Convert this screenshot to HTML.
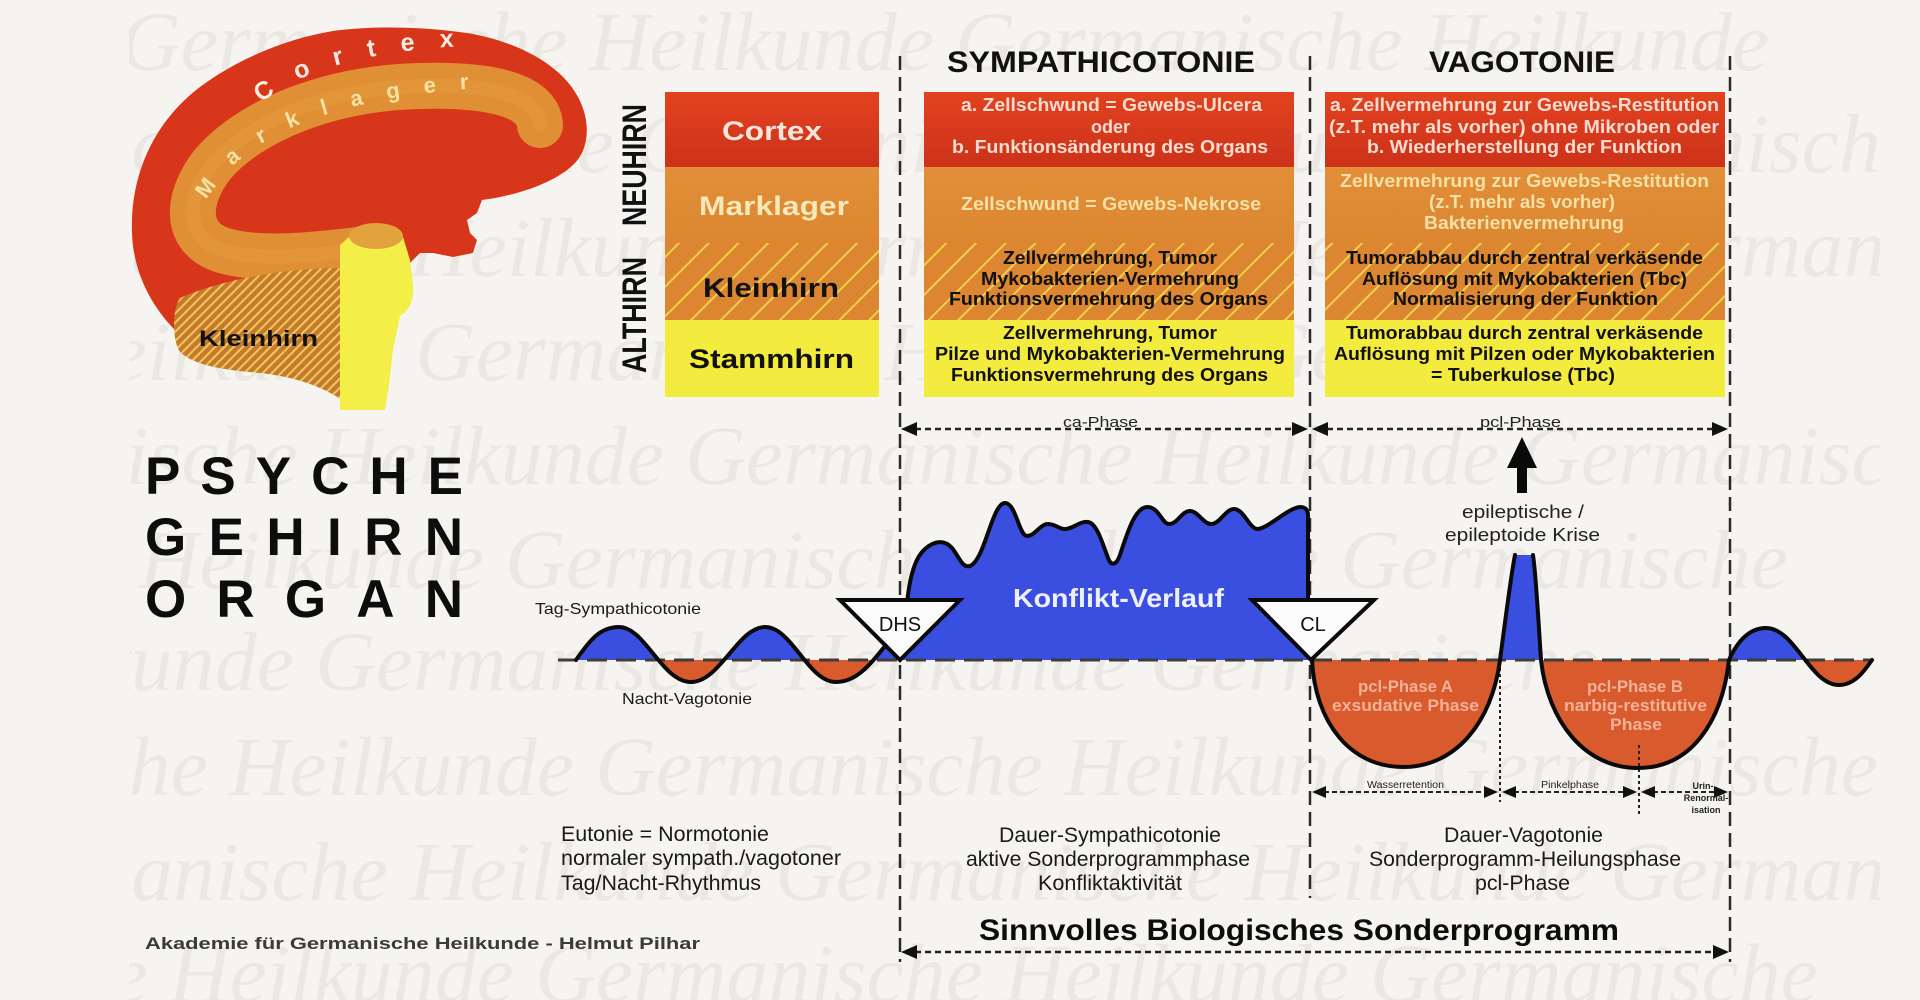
<!DOCTYPE html>
<html><head><meta charset="utf-8"><style>html,body{margin:0;padding:0;background:#f6f4f0;}svg{display:block}</style></head>
<body>
<svg width="1920" height="1000" viewBox="0 0 1920 1000" xmlns="http://www.w3.org/2000/svg" font-family="'Liberation Sans', Arial, sans-serif">
<defs>
<pattern id="hb" width="6.5" height="6.5" patternUnits="userSpaceOnUse" patternTransform="rotate(45)"><rect width="6.5" height="6.5" fill="#c67a2f"/><rect width="2" height="6.5" fill="#efc955"/></pattern>
<pattern id="ht" width="21" height="21" patternUnits="userSpaceOnUse" patternTransform="rotate(45)"><rect width="21" height="21" fill="#dc8632"/><rect width="2" height="21" fill="#f0cf4a"/></pattern>
<linearGradient id="gr" x1="0" y1="0" x2="0" y2="1"><stop offset="0" stop-color="#e2421f"/><stop offset="1" stop-color="#cc321a"/></linearGradient>
<linearGradient id="go" x1="0" y1="0" x2="0" y2="1"><stop offset="0" stop-color="#e28f38"/><stop offset="1" stop-color="#dc8631"/></linearGradient>
<clipPath id="above"><rect x="0" y="0" width="1920" height="660"/></clipPath>
<clipPath id="below"><rect x="0" y="660" width="1920" height="340"/></clipPath>
<clipPath id="wm"><rect x="129" y="0" width="1751" height="1000"/></clipPath>
<path id="pc" d="M 250 115 C 285 75 360 50 470 46"/>
<path id="pm" d="M 200 218 C 225 140 330 92 520 86"/>
</defs>

<rect width="1920" height="1000" fill="#f6f4f0"/>

<!-- watermark -->
<g clip-path="url(#wm)" font-family="'Liberation Serif', serif" font-style="italic" font-size="84" fill="#ebe8e3">
<text x="120" y="70">Germanische Heilkunde   Germanische Heilkunde</text>
<text x="-200" y="172">Germanische Heilkunde   Germanische Heilkunde   Germanische</text>
<text x="-60" y="276">Germanische Heilkunde   Germanische Heilkunde   Germanische</text>
<text x="-420" y="380">Germanische Heilkunde   Germanische Heilkunde   Germanische</text>
<text x="-150" y="484">Germanische Heilkunde   Germanische Heilkunde   Germanische</text>
<text x="-330" y="588">Germanische Heilkunde   Germanische Heilkunde   Germanische</text>
<text x="-520" y="690">Germanische Heilkunde   Germanische Heilkunde   Germanische</text>
<text x="-240" y="795">Germanische Heilkunde   Germanische Heilkunde   Germanische</text>
<text x="-60" y="900">Germanische Heilkunde   Germanische Heilkunde   Germanische</text>
<text x="-300" y="1002">Germanische Heilkunde   Germanische Heilkunde   Germanische</text>
</g>

<!-- brain -->
<path d="M 175 330 C 150 305 133 270 132 233 C 130 180 150 125 200 87 C 240 57 290 38 333 31 C 370 26 420 26 467 33 C 510 40 555 60 575 92 C 592 118 590 150 573 165 C 555 182 520 195 482 200 L 477 213 L 467 220 L 470 233 L 477 240 L 473 253 L 453 257 L 433 253 L 420 253 L 410 263 L 400 288 L 340 285 C 280 280 220 290 180 320 Z" fill="#d8361b"/>
<path d="M 540 125 C 538 95 490 84 420 86 C 330 88 250 120 212 165 C 185 200 185 238 222 250 C 260 262 320 255 375 248" fill="none" stroke="#e08f35" stroke-width="46" stroke-linecap="round"/>
<path d="M 540 125 C 538 95 490 84 420 86 C 330 88 250 120 212 165 C 185 200 185 238 222 250 C 260 262 320 255 375 248" fill="none" stroke="#e69c40" stroke-width="14" stroke-linecap="round" opacity="0.5"/>
<path d="M 340 268 C 290 268 225 278 180 298 C 172 310 172 340 180 352 C 195 366 225 370 260 373 C 290 376 320 385 342 400 Z" fill="url(#hb)"/>
<path d="M 349 237 L 340 245 L 340 410 L 385 410 L 389 385 L 393 350 L 400 316 C 410 310 414 300 413 285 L 410 260 L 403 237 Z" fill="#f4ef48"/>
<ellipse cx="376" cy="236" rx="27" ry="13" fill="#e3a33c"/>
<text font-size="25" font-weight="bold" fill="#f8ebe2" letter-spacing="25"><textPath href="#pc" startOffset="16">Cortex</textPath></text>
<text font-size="22" font-weight="bold" fill="#f5e2a4" letter-spacing="24"><textPath href="#pm" startOffset="19">Marklager</textPath></text>
<text x="199" y="346" font-size="22" font-weight="bold" fill="#111" textLength="119" lengthAdjust="spacingAndGlyphs">Kleinhirn</text>

<!-- vertical labels -->
<text transform="translate(646,226) rotate(-90)" font-size="34" font-weight="bold" fill="#111" textLength="122" lengthAdjust="spacingAndGlyphs">NEUHIRN</text>
<text transform="translate(646,373) rotate(-90)" font-size="34" font-weight="bold" fill="#111" textLength="116" lengthAdjust="spacingAndGlyphs">ALTHIRN</text>

<!-- left table -->
<rect x="665" y="92" width="214" height="75" fill="url(#gr)"/>
<rect x="665" y="167" width="214" height="76" fill="url(#go)"/>
<rect x="665" y="243" width="214" height="77" fill="url(#ht)"/>
<rect x="665" y="320" width="214" height="77" fill="#f3ec3e"/>
<g font-weight="bold" font-size="27">
<text x="722" y="140" fill="#f6e6dc" textLength="100" lengthAdjust="spacingAndGlyphs">Cortex</text>
<text x="699" y="215" fill="#f6e8b8" textLength="150" lengthAdjust="spacingAndGlyphs">Marklager</text>
<text x="703" y="297" fill="#111" textLength="136" lengthAdjust="spacingAndGlyphs">Kleinhirn</text>
<text x="689" y="368" fill="#111" textLength="165" lengthAdjust="spacingAndGlyphs">Stammhirn</text>
</g>

<!-- SYMP column -->
<rect x="924" y="92" width="370" height="75" fill="url(#gr)"/>
<rect x="924" y="167" width="370" height="76" fill="url(#go)"/>
<rect x="924" y="243" width="370" height="77" fill="url(#ht)"/>
<rect x="924" y="320" width="370" height="77" fill="#f3ec3e"/>
<!-- VAGO column -->
<rect x="1325" y="92" width="400" height="75" fill="url(#gr)"/>
<rect x="1325" y="167" width="400" height="76" fill="url(#go)"/>
<rect x="1325" y="243" width="400" height="77" fill="url(#ht)"/>
<rect x="1325" y="320" width="400" height="77" fill="#f3ec3e"/>

<g font-weight="bold" font-size="18">
<text x="961" y="111" fill="#f7dccf" textLength="301" lengthAdjust="spacingAndGlyphs">a. Zellschwund = Gewebs-Ulcera</text>
<text x="1091" y="133" fill="#f7dccf" textLength="39" lengthAdjust="spacingAndGlyphs">oder</text>
<text x="952" y="153" fill="#f7dccf" textLength="316" lengthAdjust="spacingAndGlyphs">b. Funktionsänderung des Organs</text>
<text x="961" y="210" fill="#f3e0a6" textLength="300" lengthAdjust="spacingAndGlyphs">Zellschwund = Gewebs-Nekrose</text>
<text x="1003" y="264" fill="#111" textLength="214" lengthAdjust="spacingAndGlyphs">Zellvermehrung, Tumor</text>
<text x="981" y="285" fill="#111" textLength="258" lengthAdjust="spacingAndGlyphs">Mykobakterien-Vermehrung</text>
<text x="949" y="305" fill="#111" textLength="319" lengthAdjust="spacingAndGlyphs">Funktionsvermehrung des Organs</text>
<text x="1003" y="339" fill="#111" textLength="214" lengthAdjust="spacingAndGlyphs">Zellvermehrung, Tumor</text>
<text x="935" y="360" fill="#111" textLength="350" lengthAdjust="spacingAndGlyphs">Pilze und Mykobakterien-Vermehrung</text>
<text x="951" y="381" fill="#111" textLength="317" lengthAdjust="spacingAndGlyphs">Funktionsvermehrung des Organs</text>

<text x="1330" y="111" fill="#f7dccf" textLength="389" lengthAdjust="spacingAndGlyphs">a. Zellvermehrung zur Gewebs-Restitution</text>
<text x="1329" y="133" fill="#f7dccf" textLength="390" lengthAdjust="spacingAndGlyphs">(z.T. mehr als vorher) ohne Mikroben oder</text>
<text x="1367" y="153" fill="#f7dccf" textLength="315" lengthAdjust="spacingAndGlyphs">b. Wiederherstellung der Funktion</text>
<text x="1340" y="187" fill="#f3e0a6" textLength="369" lengthAdjust="spacingAndGlyphs">Zellvermehrung zur Gewebs-Restitution</text>
<text x="1429" y="208" fill="#f3e0a6" textLength="186" lengthAdjust="spacingAndGlyphs">(z.T. mehr als vorher)</text>
<text x="1424" y="229" fill="#f3e0a6" textLength="200" lengthAdjust="spacingAndGlyphs">Bakterienvermehrung</text>
<text x="1346" y="264" fill="#111" textLength="357" lengthAdjust="spacingAndGlyphs">Tumorabbau durch zentral verkäsende</text>
<text x="1362" y="285" fill="#111" textLength="325" lengthAdjust="spacingAndGlyphs">Auflösung mit Mykobakterien (Tbc)</text>
<text x="1393" y="305" fill="#111" textLength="265" lengthAdjust="spacingAndGlyphs">Normalisierung der Funktion</text>
<text x="1346" y="339" fill="#111" textLength="357" lengthAdjust="spacingAndGlyphs">Tumorabbau durch zentral verkäsende</text>
<text x="1334" y="360" fill="#111" textLength="381" lengthAdjust="spacingAndGlyphs">Auflösung mit Pilzen oder Mykobakterien</text>
<text x="1431" y="381" fill="#111" textLength="184" lengthAdjust="spacingAndGlyphs">= Tuberkulose (Tbc)</text>
</g>

<!-- headers -->
<text x="947" y="72" font-size="30" font-weight="bold" fill="#111" textLength="308" lengthAdjust="spacingAndGlyphs">SYMPATHICOTONIE</text>
<text x="1429" y="72" font-size="30" font-weight="bold" fill="#111" textLength="186" lengthAdjust="spacingAndGlyphs">VAGOTONIE</text>

<!-- PSYCHE GEHIRN ORGAN -->
<g font-size="53" font-weight="bold" fill="#0d0d0d">
<text x="145" y="494" textLength="318" lengthAdjust="spacing">PSYCHE</text>
<text x="145" y="555" textLength="318" lengthAdjust="spacing">GEHIRN</text>
<text x="145" y="617" textLength="318" lengthAdjust="spacing">ORGAN</text>
</g>

<!-- vertical dashed lines -->
<g stroke="#2a2a2a" stroke-width="2.5" stroke-dasharray="14 7" fill="none">
<line x1="900" y1="56" x2="900" y2="962"/>
<line x1="1310" y1="56" x2="1310" y2="898"/>
<line x1="1730" y1="56" x2="1730" y2="962"/>
</g>

<!-- phase arrows -->
<g stroke="#222" stroke-width="2.5" stroke-dasharray="6 4" fill="none">
<line x1="915" y1="429" x2="1294" y2="429"/>
<line x1="1327" y1="429" x2="1714" y2="429"/>
<line x1="915" y1="952" x2="1715" y2="952"/>
</g>
<g fill="#111">
<polygon points="901,429 917,422 917,436"/>
<polygon points="1308,429 1292,422 1292,436"/>
<polygon points="1312,429 1328,422 1328,436"/>
<polygon points="1728,429 1712,422 1712,436"/>
<polygon points="901,952 917,945 917,959"/>
<polygon points="1729,952 1713,945 1713,959"/>
</g>
<g font-size="15" fill="#222">
<text x="1063" y="427" textLength="75" lengthAdjust="spacingAndGlyphs">ca-Phase</text>
<text x="1480" y="427" textLength="81" lengthAdjust="spacingAndGlyphs">pcl-Phase</text>
</g>

<!-- pre-DHS wave fills -->
<path d="M 576 660 C 590 640 600 627 619 627 C 645 627 662 682 691 682 C 720 682 738 627 765 627 C 792 627 808 682 836 682 C 862 682 876 655 900 628 L 900 660 Z" fill="#3a4fe0" clip-path="url(#above)"/>
<path d="M 576 660 C 590 640 600 627 619 627 C 645 627 662 682 691 682 C 720 682 738 627 765 627 C 792 627 808 682 836 682 C 862 682 876 655 900 628 L 900 660 Z" fill="#d85a2d" clip-path="url(#below)"/>

<!-- Konflikt area -->
<path d="M 900 660 L 905 640 C 906 590 912 560 925 549 C 935 540 945 540 952 548 C 960 558 962 568 970 566 C 985 560 992 503 1005 503 C 1016 503 1019 536 1027 536 C 1035 536 1040 524 1048 524 C 1056 524 1060 530 1066 529 C 1074 528 1080 521 1088 522 C 1097 523 1103 545 1108 558 C 1111 566 1116 566 1120 555 C 1128 530 1136 506 1148 507 C 1160 508 1162 525 1170 524 C 1178 523 1182 511 1190 511 C 1198 511 1204 525 1212 524 C 1220 523 1226 509 1234 509 C 1244 509 1250 530 1258 529 C 1270 527 1288 508 1300 507 C 1306 507 1308 510 1308 516 L 1308 660 Z" fill="#3a4fe0"/>

<!-- post-CL fills -->
<path d="M 1312 660 C 1315 722 1350 767 1403 767 C 1456 767 1492 722 1500 660 C 1506 615 1511 575 1515 555 L 1533 555 C 1536 575 1538 615 1541 660 C 1548 722 1585 768 1638 768 C 1691 768 1722 722 1729 660 C 1738 640 1750 628 1766 628 C 1795 628 1810 685 1839 685 C 1855 685 1865 670 1872 660 Z" fill="#3a4fe0" clip-path="url(#above)"/>
<path d="M 1312 660 C 1315 722 1350 767 1403 767 C 1456 767 1492 722 1500 660 C 1506 615 1511 575 1515 555 L 1533 555 C 1536 575 1538 615 1541 660 C 1548 722 1585 768 1638 768 C 1691 768 1722 722 1729 660 C 1738 640 1750 628 1766 628 C 1795 628 1810 685 1839 685 C 1855 685 1865 670 1872 660 Z" fill="#d85a2d" clip-path="url(#below)"/>

<!-- baseline -->
<line x1="558" y1="660" x2="1873" y2="660" stroke="#3d3d3d" stroke-width="3" stroke-dasharray="20 9"/>

<!-- dotted verticals -->
<g stroke="#222" stroke-width="2" stroke-dasharray="3 3" fill="none">
<line x1="1500" y1="662" x2="1500" y2="802"/>
<line x1="1639" y1="745" x2="1639" y2="815"/>
</g>

<!-- black curves -->
<g fill="none" stroke="#0a0a0a" stroke-width="4" stroke-linejoin="round" stroke-linecap="round">
<path d="M 576 660 C 590 640 600 627 619 627 C 645 627 662 682 691 682 C 720 682 738 627 765 627 C 792 627 808 682 836 682 C 862 682 876 655 900 628"/>
<path d="M 905 640 C 906 590 912 560 925 549 C 935 540 945 540 952 548 C 960 558 962 568 970 566 C 985 560 992 503 1005 503 C 1016 503 1019 536 1027 536 C 1035 536 1040 524 1048 524 C 1056 524 1060 530 1066 529 C 1074 528 1080 521 1088 522 C 1097 523 1103 545 1108 558 C 1111 566 1116 566 1120 555 C 1128 530 1136 506 1148 507 C 1160 508 1162 525 1170 524 C 1178 523 1182 511 1190 511 C 1198 511 1204 525 1212 524 C 1220 523 1226 509 1234 509 C 1244 509 1250 530 1258 529 C 1270 527 1288 508 1300 507 C 1306 507 1308 510 1308 516 L 1308 610"/>
<path d="M 1312 660 C 1315 722 1350 767 1403 767 C 1456 767 1492 722 1500 660 C 1506 615 1511 575 1515 555"/>
<path d="M 1533 555 C 1536 575 1538 615 1541 660 C 1548 722 1585 768 1638 768 C 1691 768 1722 722 1729 660 C 1738 640 1750 628 1766 628 C 1795 628 1810 685 1839 685 C 1855 685 1865 670 1872 660"/>
</g>

<!-- triangles -->
<path d="M 840 600 L 960 600 L 900 660 Z" fill="#fbfbfb" stroke="#0a0a0a" stroke-width="4" stroke-linejoin="miter"/>
<path d="M 1252 600 L 1374 600 L 1311 660 Z" fill="#fbfbfb" stroke="#0a0a0a" stroke-width="4" stroke-linejoin="miter"/>
<text x="900" y="631" font-size="20" fill="#111" text-anchor="middle">DHS</text>
<text x="1313" y="631" font-size="20" fill="#111" text-anchor="middle">CL</text>

<text x="1013" y="607" font-size="26" font-weight="bold" fill="#eef0ff" textLength="211" lengthAdjust="spacingAndGlyphs">Konflikt-Verlauf</text>

<!-- wave labels -->
<text x="535" y="614" font-size="16" fill="#1a1a1a" textLength="166" lengthAdjust="spacingAndGlyphs">Tag-Sympathicotonie</text>
<text x="622" y="704" font-size="16" fill="#1a1a1a" textLength="130" lengthAdjust="spacingAndGlyphs">Nacht-Vagotonie</text>

<!-- epileptic arrow -->
<polygon points="1522,437 1507,468 1537,468" fill="#0a0a0a"/>
<rect x="1517" y="466" width="10" height="27" fill="#0a0a0a"/>
<text x="1462" y="518" font-size="18" fill="#222" textLength="122" lengthAdjust="spacingAndGlyphs">epileptische /</text>
<text x="1445" y="541" font-size="18" fill="#222" textLength="155" lengthAdjust="spacingAndGlyphs">epileptoide Krise</text>

<!-- phase labels -->
<g font-size="17" font-weight="bold" fill="#f2b29a">
<text x="1358" y="692" textLength="95" lengthAdjust="spacingAndGlyphs">pcl-Phase A</text>
<text x="1332" y="711" textLength="147" lengthAdjust="spacingAndGlyphs">exsudative Phase</text>
<text x="1587" y="692" textLength="96" lengthAdjust="spacingAndGlyphs">pcl-Phase B</text>
<text x="1564" y="711" textLength="143" lengthAdjust="spacingAndGlyphs">narbig-restitutive</text>
<text x="1610" y="730" textLength="52" lengthAdjust="spacingAndGlyphs">Phase</text>
</g>

<!-- small arrows -->
<g stroke="#222" stroke-width="2" stroke-dasharray="5 3" fill="none">
<line x1="1324" y1="792" x2="1486" y2="792"/>
<line x1="1514" y1="792" x2="1625" y2="792"/>
<line x1="1653" y1="792" x2="1716" y2="792"/>
</g>
<g fill="#111">
<polygon points="1312,792 1326,786 1326,798"/>
<polygon points="1498,792 1484,786 1484,798"/>
<polygon points="1502,792 1516,786 1516,798"/>
<polygon points="1637,792 1623,786 1623,798"/>
<polygon points="1641,792 1655,786 1655,798"/>
<polygon points="1728,792 1714,786 1714,798"/>
</g>
<g font-size="10" fill="#222">
<text x="1367" y="788" textLength="77" lengthAdjust="spacingAndGlyphs">Wasserretention</text>
<text x="1541" y="788" textLength="58" lengthAdjust="spacingAndGlyphs">Pinkelphase</text>
</g>
<g font-size="9" font-weight="bold" fill="#222" text-anchor="middle">
<text x="1703" y="789">Urin-</text>
<text x="1706" y="801">Renormal-</text>
<text x="1706" y="813">isation</text>
</g>

<!-- bottom texts -->
<g font-size="21" fill="#1a1a1a">
<text x="561" y="841" textLength="208" lengthAdjust="spacingAndGlyphs">Eutonie = Normotonie</text>
<text x="561" y="865" textLength="280" lengthAdjust="spacingAndGlyphs">normaler sympath./vagotoner</text>
<text x="561" y="890" textLength="200" lengthAdjust="spacingAndGlyphs">Tag/Nacht-Rhythmus</text>
<text x="999" y="842" textLength="222" lengthAdjust="spacingAndGlyphs">Dauer-Sympathicotonie</text>
<text x="966" y="866" textLength="284" lengthAdjust="spacingAndGlyphs">aktive Sonderprogrammphase</text>
<text x="1038" y="890" textLength="144" lengthAdjust="spacingAndGlyphs">Konfliktaktivität</text>
<text x="1444" y="842" textLength="159" lengthAdjust="spacingAndGlyphs">Dauer-Vagotonie</text>
<text x="1369" y="866" textLength="312" lengthAdjust="spacingAndGlyphs">Sonderprogramm-Heilungsphase</text>
<text x="1475" y="890" textLength="95" lengthAdjust="spacingAndGlyphs">pcl-Phase</text>
</g>
<text x="979" y="940" font-size="30" font-weight="bold" fill="#0d0d0d" textLength="640" lengthAdjust="spacingAndGlyphs">Sinnvolles Biologisches Sonderprogramm</text>
<text x="145" y="949" font-size="17" font-weight="bold" fill="#3a3a3a" textLength="555" lengthAdjust="spacingAndGlyphs">Akademie für Germanische Heilkunde - Helmut Pilhar</text>
</svg>
</body></html>
